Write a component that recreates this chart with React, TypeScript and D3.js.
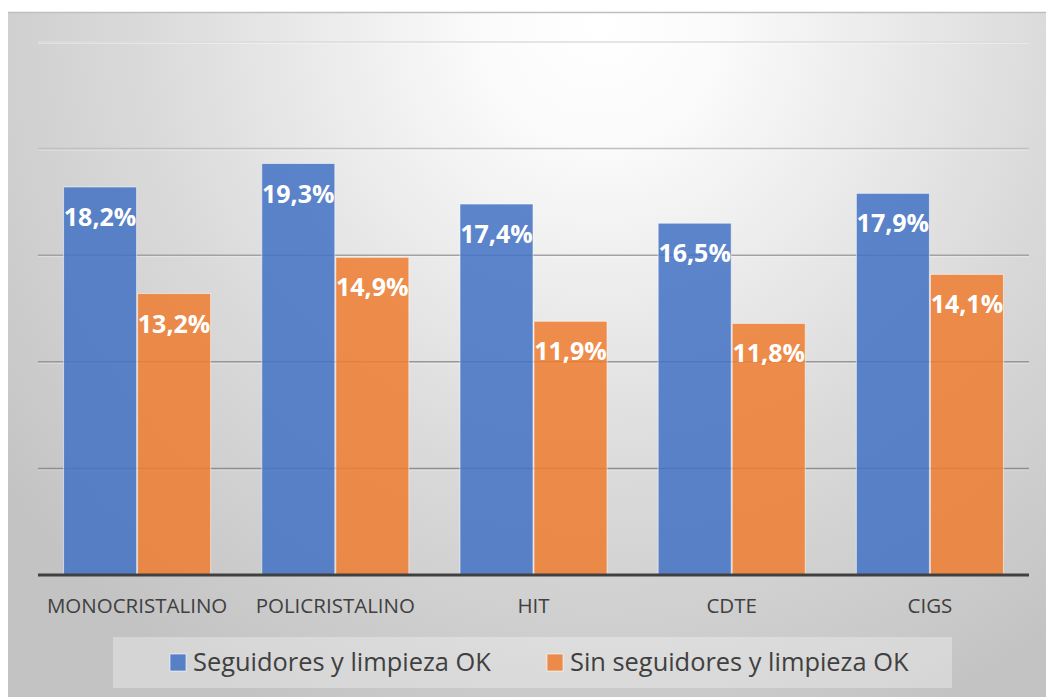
import React from "react";
import * as d3 from "d3";

const categories = ["MONOCRISTALINO", "POLICRISTALINO", "HIT", "CDTE", "CIGS"];
const seriesNames = ["Seguidores y limpieza OK", "Sin seguidores y limpieza OK"];
const seguidores = [0.182, 0.193, 0.174, 0.165, 0.179];
const sinSeguidores = [0.132, 0.149, 0.119, 0.118, 0.141];
const gridTicks = [0.05, 0.1, 0.15, 0.2, 0.25];

const W = 1046;
const H = 697;
const colors = ["#4472C4", "#ED7D31"];
const FONT = "'Open Sans', 'Noto Sans', sans-serif";

export default function App() {
  const x = d3
    .scaleBand<string>()
    .domain(categories)
    .range([38, 1029])
    .paddingInner(0.253)
    .paddingOuter(0.1265);
  const xs = d3.scaleBand<string>().domain(seriesNames).range([0, x.bandwidth()]).padding(0);
  const y = d3.scaleLinear().domain([0, 0.25]).range([575, 42]);
  const gridColor = d3
    .scaleLinear<string>()
    .domain([0.05, 0.15, 0.25])
    .range(["#8e8e8e", "#a2a2a2", "#dcdcdc"]);
  const fmt = (v: number) => (v * 100).toFixed(1).replace(".", ",") + "%";
  const series = [seguidores, sinSeguidores];

  return (
    <svg
      width={W}
      height={H}
      style={{ position: "absolute", left: 0, top: 0, display: "block" }}
      fontFamily={FONT}
    >
      <defs>
        <radialGradient id="bg" gradientUnits="userSpaceOnUse" cx={600} cy={25} r={760}>
          <stop offset="0" stopColor="#ffffff" />
          <stop offset="0.15" stopColor="#fbfbfb" />
          <stop offset="0.6" stopColor="#dadada" />
          <stop offset="1" stopColor="#c3c3c3" />
        </radialGradient>
      </defs>
      <rect x={0} y={0} width={W} height={H} fill="#ffffff" />
      <rect x={8} y={12} width={W - 8} height={H - 12} fill="url(#bg)" />
      <line x1={8} x2={W} y1={12.5} y2={12.5} stroke="#bfbfbf" strokeWidth={1.5} />

      {gridTicks.map((t) => (
        <g key={t}>
          <line x1={38} x2={1029} y1={y(t) + 1.5} y2={y(t) + 1.5} stroke="#ffffff" strokeOpacity={0.35} strokeWidth={1} />
          <line x1={38} x2={1029} y1={y(t)} y2={y(t)} stroke={gridColor(t)} strokeWidth={1.5} />
        </g>
      ))}

      {categories.map((c, i) => (
        <g key={c}>
          {series.map((s, j) => {
            const bx = (x(c) as number) + (xs(seriesNames[j]) as number);
            const top = y(s[i]);
            return (
              <g key={j}>
                <rect
                  x={bx + 0.5}
                  y={top}
                  width={xs.bandwidth() - 1}
                  height={y(0) - top}
                  fill={colors[j]}
                  fillOpacity={0.86}
                  stroke="#ffffff"
                  strokeOpacity={0.55}
                  strokeWidth={1}
                />
                <text
                  x={bx + xs.bandwidth() / 2}
                  y={top + 39}
                  textAnchor="middle"
                  fill="#ffffff"
                  fontWeight="bold"
                  fontSize={25}
                >
                  {fmt(s[i])}
                </text>
              </g>
            );
          })}
          <text
            x={(x(c) as number) + x.bandwidth() / 2}
            y={613}
            textAnchor="middle"
            fill="#404040"
            fontSize={20.5}
          >
            {c}
          </text>
        </g>
      ))}

      <line x1={38} x2={1029} y1={y(0)} y2={y(0)} stroke="#404040" strokeWidth={3} />

      <rect x={113} y={637} width={839} height={51} fill="#ffffff" fillOpacity={0.3} />
      {seriesNames.map((n, j) => {
        const lx = [170, 547][j];
        return (
          <g key={n}>
            <rect x={lx} y={654} width={16} height={17} fill={colors[j]} fillOpacity={0.86} stroke="#ffffff" strokeOpacity={0.6} />
            <text x={lx + 23} y={671} fill="#404040" fontSize={25.4}>
              {n}
            </text>
          </g>
        );
      })}
    </svg>
  );
}
